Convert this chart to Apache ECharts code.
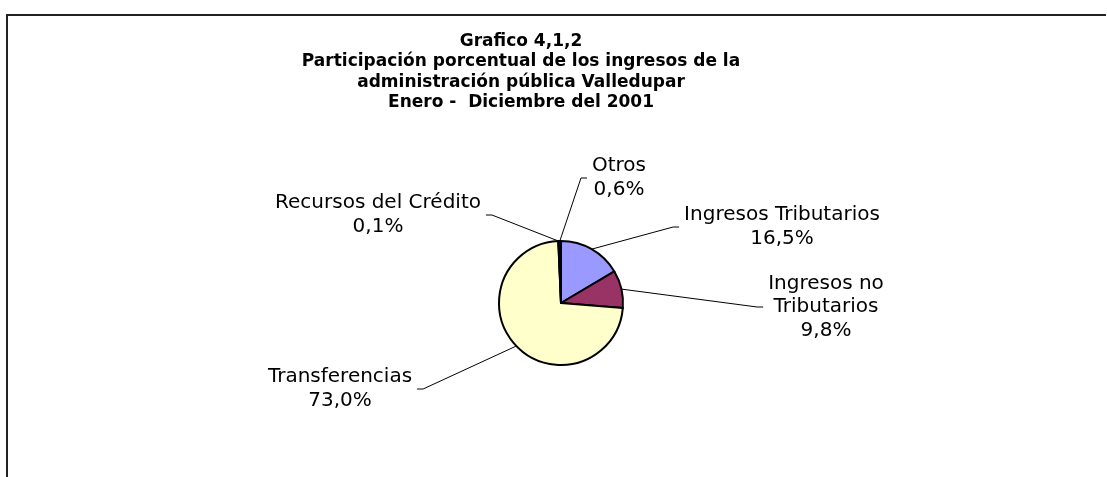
<!DOCTYPE html>
<html>
<head>
<meta charset="utf-8">
<title>Grafico 4,1,2</title>
<script src="https://cdn.jsdelivr.net/npm/echarts@6/dist/echarts.min.js"></script>
<style>
  html, body { margin: 0; padding: 0; background: #fff; }
  #chart { width: 1107px; height: 477px; }
</style>
</head>
<body>
<div id="chart"></div>
<script>
// datos del grafico (porcentajes)
const categories = [
  'Ingresos Tributarios',
  'Ingresos no Tributarios',
  'Transferencias',
  'Recursos del Crédito',
  'Otros',
]
const shares = [16.5, 9.8, 73.0, 0.1, 0.6]
const colors = ['#9999FF', '#993366', '#FFFFCC', '#CCFFFF', '#660066']

const titleLines = [
  'Grafico 4,1,2',
  'Participación porcentual de los ingresos de la',
  'administración pública Valledupar',
  'Enero -  Diciembre del 2001',
]

// posicion de cada etiqueta (centro del texto), igual orden que categories
const labelPos = [
  [782, 227],
  [826, 307],
  [340, 389],
  [378, 215],
  [619, 178],
]

const chart = echarts.init(document.getElementById('chart'), null, {
  renderer: 'canvas',
})

const fmtPct = (v) => v.toFixed(1).replace('.', ',') + '%'

const option = {
  animation: false,
  backgroundColor: '#fff',
  title: {
    text: titleLines.join('\n'),
    left: 521,
    top: 31,
    padding: 0,
    textAlign: 'center',
    textStyle: {
      fontFamily: 'DejaVu Sans',
      fontWeight: 'bold',
      fontSize: 17,
      lineHeight: 20.5,
      color: '#000',
    },
  },
  graphic: [
    {
      type: 'polyline',
      silent: true,
      shape: { points: [[7, 477], [7, 15], [1106, 15]] },
      style: { stroke: '#222', lineWidth: 2, fill: null },
    },
  ],
  series: [
    {
      type: 'pie',
      center: [561, 303],
      radius: 62,
      startAngle: 90,
      clockwise: true,
      avoidLabelOverlap: false,
      silent: true,
      emphasis: { disabled: true },
      itemStyle: { borderColor: '#000', borderWidth: 2 },
      label: {
        show: true,
        position: 'outside',
        fontFamily: 'DejaVu Sans',
        fontSize: 20,
        lineHeight: 23.5,
        color: '#000',
        align: 'center',
        formatter: (p) =>
          p.name.replace('no Tributarios', 'no\nTributarios') +
          '\n' +
          fmtPct(p.value),
      },
      labelLine: {
        show: true,
        length: 10,
        length2: 6,
        lineStyle: { color: '#000', width: 1 },
      },
      labelLayout: (params) => {
        const pos = labelPos[params.dataIndex]
        const w = params.labelRect.width
        const anchor = params.labelLinePoints[0]
        const onRight = pos[0] > anchor[0]
        const ex = onRight ? pos[0] - w / 2 - 5 : pos[0] + w / 2 + 5
        const bx = onRight ? ex - 6 : ex + 6
        return {
          x: pos[0],
          y: pos[1],
          align: 'center',
          verticalAlign: 'middle',
          labelLinePoints: [anchor, [bx, pos[1]], [ex, pos[1]]],
        }
      },
      data: categories.map((name, i) => ({
        name: name,
        value: shares[i],
        itemStyle: { color: colors[i] },
      })),
    },
  ],
}

chart.setOption(option)
</script>
</body>
</html>
